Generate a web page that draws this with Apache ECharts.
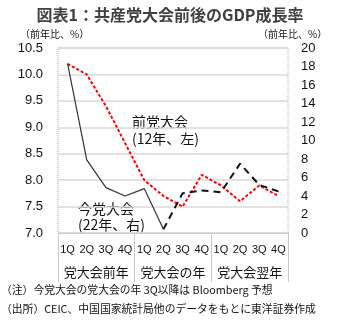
<!DOCTYPE html>
<html>
<head>
<meta charset="utf-8">
<script src="https://cdn.jsdelivr.net/npm/echarts@6/dist/echarts.min.js"></script>
<style>
html,body{margin:0;padding:0;background:#fff;}
#c{width:340px;height:328px;}
</style>
</head>
<body>
<div id="c"></div>
<script>
var quarters = ['1Q','2Q','3Q','4Q','1Q','2Q','3Q','4Q','1Q','2Q','3Q','4Q'];
var groups = ['党大会前年','党大会の年','党大会翌年'];
var prev12 = [10.2, 10.0, 9.4, 8.7, 8.0, 7.7, 7.5, 8.1, 7.9, 7.6, 7.9, 7.7];
var now22 = [18.3, 7.9, 4.9, 4.0, 4.8, 0.4, 4.3, 4.6, 4.4, 7.5, 5.2, 4.5];
var actualCount = 6;
var leftTicks = {min: 7.0, max: 10.5, interval: 0.5};
var rightTicks = {min: 0, max: 20, interval: 2};

var FONT = "'Liberation Sans','Noto Sans CJK JP',sans-serif";
var JFONT = "'Noto Sans CJK JP',sans-serif";

var nowActual = now22.map(function(v,i){ return i < actualCount ? v : null; });
var nowForecast = now22.map(function(v,i){ return i >= actualCount - 1 ? v : null; });

var chart = echarts.init(document.getElementById('c'), null, {renderer:'canvas'});
chart.setOption({
  animation: false,
  title: {
    text: '図表1：共産党大会前後のGDP成長率',
    left: 'center', top: 2,
    textStyle: {fontFamily: JFONT, fontSize: 16, fontWeight: 'bold', color: '#404040'}
  },
  grid: {
    left: 58, right: 52, top: 48, bottom: 95,
    show: true, borderColor: '#aaa', borderWidth: 1, borderType: 'dotted', backgroundColor: 'transparent'
  },
  xAxis: [{
    type: 'category', data: quarters, boundaryGap: true,
    axisLine: {show: true, lineStyle: {color: '#c8c8c8', width: 1}},
    axisTick: {show: false},
    axisLabel: {interval: 0, margin: 11, fontFamily: FONT, fontSize: 11, color: '#111'},
    splitLine: {show: false}
  }, {
    type: 'category', data: groups, boundaryGap: true, position: 'bottom',
    axisLine: {show: false},
    axisTick: {show: true, length: 49, lineStyle: {color: '#c8c8c8', width: 1}},
    axisLabel: {interval: 0, margin: 33, fontFamily: JFONT, fontSize: 13, color: '#111'},
    splitLine: {show: false}
  }],
  yAxis: [{
    type: 'value', min: leftTicks.min, max: leftTicks.max, interval: leftTicks.interval,
    axisLine: {show: false}, axisTick: {show: false},
    axisLabel: {margin: 15, fontFamily: FONT, fontSize: 13, color: '#111',
      formatter: function(v){ return v.toFixed(1); }},
    splitLine: {show: true, lineStyle: {color: '#d9d9d9', width: 1.5}}
  }, {
    type: 'value', min: rightTicks.min, max: rightTicks.max, interval: rightTicks.interval,
    position: 'right',
    axisLine: {show: false}, axisTick: {show: false},
    axisLabel: {margin: 13, fontFamily: FONT, fontSize: 13, color: '#111'},
    splitLine: {show: false}
  }],
  series: [{
    name: '前党大会', type: 'line', xAxisIndex: 0, yAxisIndex: 0, data: prev12,
    showSymbol: false, symbol: 'none',
    lineStyle: {color: '#ff0000', width: 2, type: [3, 2]}
  }, {
    name: '今党大会', type: 'line', xAxisIndex: 0, yAxisIndex: 1, data: nowActual,
    showSymbol: false, symbol: 'none',
    lineStyle: {color: '#333', width: 1.2, type: 'solid'}
  }, {
    name: '今党大会予想', type: 'line', xAxisIndex: 0, yAxisIndex: 1, data: nowForecast,
    showSymbol: false, symbol: 'none',
    lineStyle: {color: '#111', width: 2, type: [7, 5]}
  }],
  graphic: [
    {type: 'text', left: 20, top: 29, style: {text: '（前年比、%）', font: '10px ' + JFONT, fill: '#111'}},
    {type: 'text', left: 258, top: 29, style: {text: '（前年比、%）', font: '10px ' + JFONT, fill: '#111'}},
    {type: 'text', left: 132, top: 115, style: {text: '前党大会', font: '14px ' + JFONT, fill: '#111'}},
    {type: 'text', left: 132, top: 132, style: {text: '(12年、左)', font: '14px ' + JFONT, fill: '#111'}},
    {type: 'text', left: 78, top: 202, style: {text: '今党大会', font: '14px ' + JFONT, fill: '#111'}},
    {type: 'text', left: 78, top: 218, style: {text: '(22年、右)', font: '14px ' + JFONT, fill: '#111'}},
    {type: 'text', left: 1, top: 285, style: {text: '（注）今党大会の党大会の年 3Q以降は Bloomberg 予想', font: '10.8px ' + JFONT, fill: '#111'}},
    {type: 'text', left: 1, top: 304, style: {text: '（出所）CEIC、中国国家統計局他のデータをもとに東洋証券作成', font: '10.8px ' + JFONT, fill: '#111'}}
  ]
});
</script>
</body>
</html>
